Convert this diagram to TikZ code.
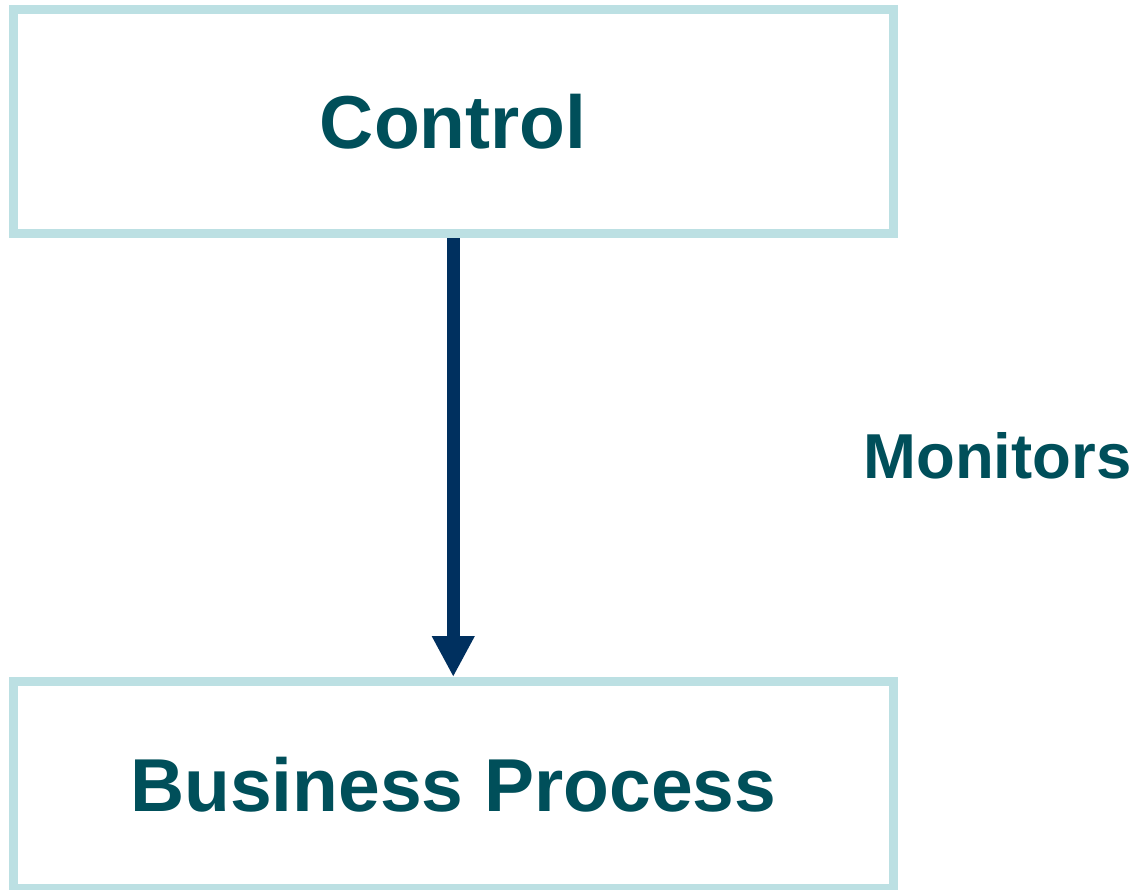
\documentclass[tikz,border=0pt]{standalone}
\usepackage{fontspec}
\setmainfont{Liberation Sans}
\usetikzlibrary{arrows.meta}
\definecolor{boxline}{HTML}{BCE0E3}
\definecolor{txtteal}{HTML}{004F5A}
\definecolor{arrownavy}{HTML}{00305F}
\tikzset{
  procbox/.style={draw=boxline, line width=9pt, fill=white, inner sep=0pt,
    font=\fontsize{75}{90}\selectfont\bfseries, text=txtteal},
  lbl/.style={inner sep=0pt, font=\fontsize{63.5}{76}\selectfont\bfseries, text=txtteal},
  flow/.style={draw=arrownavy, line width=13pt, -{Triangle[width=40pt,length=41pt]}}
}
\begin{document}
\begin{tikzpicture}[x=1pt,y=-1pt]
\useasboundingbox (0,0) rectangle (1135,889);
\fill[white] (0,0) rectangle (1135,889);
\node[procbox, minimum width=880.5pt, minimum height=224.5pt] (ctrl) at (453.25,121.25) {Control};
\node[procbox, minimum width=880.5pt, minimum height=207pt] (bp) at (453.25,785) {Business Process};
\draw[flow] (ctrl.south) -- (bp.north);
\node[lbl] (mon) at (997.5,456) {Monitors};
\end{tikzpicture}
\end{document}
